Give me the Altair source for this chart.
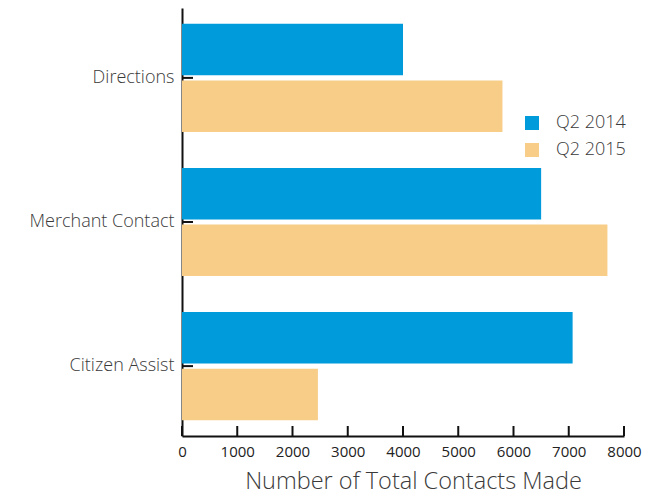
import altair as alt
import pandas as pd

categories = ["Directions", "Merchant Contact", "Citizen Assist"]
series = ["Q2 2014", "Q2 2015"]
q2_2014 = [4000, 6500, 7070]
q2_2015 = [5800, 7700, 2460]
x_ticks = [0, 1000, 2000, 3000, 4000, 5000, 6000, 7000, 8000]
colors = ["#009BDB", "#F7CD87"]

rows = []
for c, a, b in zip(categories, q2_2014, q2_2015):
    rows.append({"category": c, "series": series[0], "value": a})
    rows.append({"category": c, "series": series[1], "value": b})
df = pd.DataFrame(rows)
cat_df = pd.DataFrame({"category": categories})
tick_df = pd.DataFrame({"tick": x_ticks})

FONT = "Open Sans"
TXT = "#3a3a3a"
H = 428

yenc = alt.Y("category:N", sort=categories,
             scale=alt.Scale(paddingInner=0.25, paddingOuter=0.11),
             axis=alt.Axis(title=None, tickSize=0, labelPadding=8,
                           labelFontSize=18, labelColor=TXT, labelFont=FONT,
                           labelFontWeight=300,
                           domainColor="#111111", domainWidth=2))

bars = alt.Chart(df).mark_bar().encode(
    y=yenc,
    yOffset=alt.YOffset("series:N", sort=series,
                        scale=alt.Scale(paddingInner=0.09, paddingOuter=0)),
    x=alt.X("value:Q", scale=alt.Scale(domain=[0, 8000]),
            axis=alt.Axis(values=x_ticks, format="d", title="Number of Total Contacts Made",
                          tickSize=0, labelPadding=8, labelFontSize=15,
                          labelColor="#222222", labelFont=FONT, labelFontWeight=400,
                          grid=False,
                          titleFontSize=23.5, titleFont=FONT, titleColor=TXT,
                          titleFontWeight=300, titleBaseline="alphabetic",
                          titleX=231, titleY=52, titleAnchor="middle", titleAlign="center",
                          domainColor="#111111", domainWidth=2, labelFlush=False)),
    color=alt.Color("series:N", sort=series,
                    scale=alt.Scale(domain=series, range=colors),
                    legend=alt.Legend(title=None, orient="none", legendX=341, legendY=106,
                                      symbolType="square", symbolSize=196,
                                      symbolStrokeWidth=0, symbolOpacity=1,
                                      labelFontSize=18, labelFont=FONT, labelColor=TXT,
                                      labelFontWeight=300,
                                      labelOffset=15, rowPadding=9)),
)

ytick = alt.Chart(cat_df).mark_rule(color="#111111", strokeWidth=2).encode(
    y=alt.Y("category:N", sort=categories),
    x=alt.value(0),
    x2=alt.value(11),
)

xtick = alt.Chart(tick_df).mark_rule(color="#111111", strokeWidth=2).encode(
    x=alt.X("tick:Q"),
    y=alt.value(H),
    y2=alt.value(H - 10),
)

chart = alt.layer(bars, ytick, xtick).properties(
    width=442, height=H,
    background="white",
    autosize=alt.AutoSizeParams(type="none"),
    padding={"left": 174, "top": 0, "right": 30, "bottom": 58},
).configure_view(stroke=None)

chart.save("out.html", embed_options={"renderer": "svg", "actions": False})
